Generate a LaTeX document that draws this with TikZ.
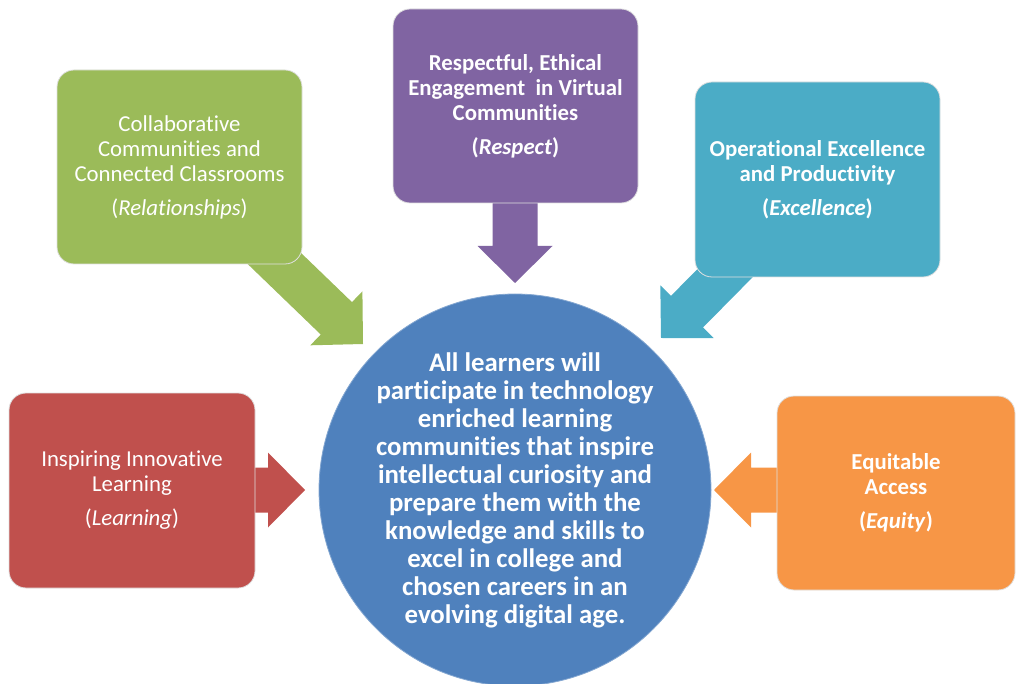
\documentclass[tikz,border=0pt]{standalone}
\usepackage{fontspec}
\setmainfont{Carlito}[Ligatures={NoCommon,NoDiscretionary,NoContextual}]
\usetikzlibrary{calc}
\definecolor{cgreen}{HTML}{9BBB59}
\definecolor{cpurple}{HTML}{8064A2}
\definecolor{ccyan}{HTML}{4BACC6}
\definecolor{cred}{HTML}{C0504D}
\definecolor{corange}{HTML}{F79646}
\definecolor{cblue}{HTML}{4F81BD}
\newcommand\blockarrow[3]{%
  \coordinate (ab) at ($(#2)!37pt!(#1)$);
  \fill[#3] ($(#1)!22.5pt!90:(#2)$) -- ($(ab)!22.5pt!90:(#2)$) -- ($(ab)!37.5pt!90:(#2)$) -- (#2)
    -- ($(ab)!37.5pt!-90:(#2)$) -- ($(ab)!22.5pt!-90:(#2)$) -- ($(#1)!22.5pt!-90:(#2)$) -- cycle;}
\tikzset{
  box/.style={rounded corners=17pt, minimum width=245pt, minimum height=194pt, text=white,
    align=center, draw=black!12, line width=0.8pt, inner sep=0pt,
    font=\fontsize{22.8}{25}\selectfont},
  boldbox/.style={box, font=\fontsize{22.8}{25}\selectfont\bfseries},
  hub/.style={circle, fill=cblue, draw=cblue!70!white, line width=0.8pt, minimum size=392pt,
    inner sep=0pt, text=white, align=center, font=\fontsize{26.8}{28}\selectfont\bfseries}
}
\begin{document}
\begin{tikzpicture}[x=1pt,y=-1pt]
\useasboundingbox (0,0) rectangle (1017,684);
% tips and starts
\coordinate (gtip) at (363,344);
\coordinate (ptip) at (515,283);
\coordinate (ctip) at (661,338);
\coordinate (rtip) at (305,490);
\coordinate (otip) at (714,490);
\coordinate (gs) at (179.5,167);
\coordinate (ps) at (515,106);
\coordinate (cs) at (817.5,179.5);
\coordinate (rs) at (132,490);
\coordinate (os) at (897,490);
% arrows
\blockarrow{gs}{gtip}{cgreen}
\blockarrow{ps}{ptip}{cpurple}
\blockarrow{cs}{ctip}{ccyan}
\blockarrow{rs}{rtip}{cred}
\blockarrow{os}{otip}{corange}
% boxes
\node[box, fill=cgreen] (green) at (179.5,167) {Collaborative\\Communities and\\Connected Classrooms\\[9pt](\textit{Relationships})};
\node[boldbox, fill=cpurple] (purple) at (515.5,106) {Respectful, Ethical\\Engagement\ \ in Virtual\\Communities\\[9pt](\textit{Respect})};
\node[boldbox, fill=ccyan, minimum height=195pt] (cyan) at (817.5,179.5) {Operational Excellence\\and Productivity\\[9pt](\textit{Excellence})};
\node[box, fill=cred, minimum width=246pt, minimum height=195pt] (red) at (132,490.5) {Inspiring Innovative\\Learning\\[9pt](\textit{Learning})};
\node[boldbox, fill=corange, minimum width=238pt] (orange) at (896,493) {Equitable\\Access\\[9pt](\textit{Equity})};
% hub
\node[hub] (center) at (515,490) {All learners will\\participate in technology\\enriched learning\\communities that inspire\\intellectual curiosity and\\prepare them with the\\knowledge and skills to\\excel in college and\\chosen careers in an\\evolving digital age.};
\end{tikzpicture}
\end{document}
